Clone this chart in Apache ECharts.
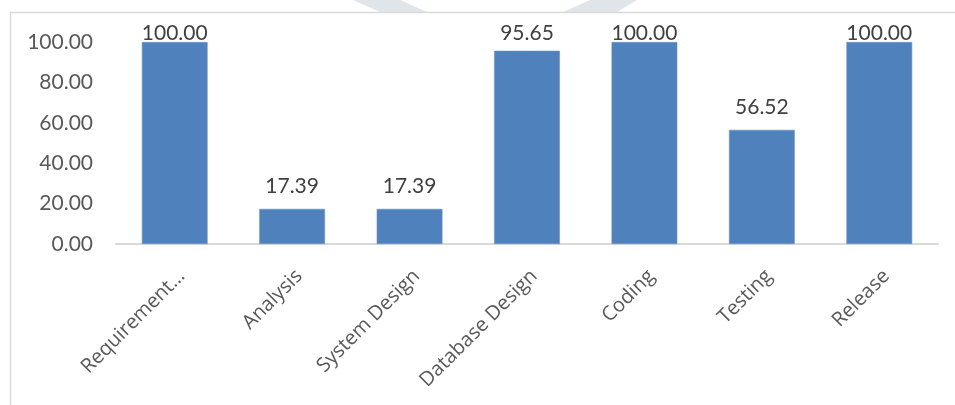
<!DOCTYPE html>
<html>
<head>
<meta charset="utf-8">
<script src="https://cdn.jsdelivr.net/npm/echarts@6/dist/echarts.min.js"></script>
<style>
  html, body { margin: 0; padding: 0; background: #ffffff; }
  #chart { width: 955px; height: 405px; }
</style>
</head>
<body>
<div id="chart"></div>
<script>
// Share of work completed per phase (percent)
var phases = ['Requirement…', 'Analysis', 'System Design', 'Database Design', 'Coding', 'Testing', 'Release'];
var completion = [100.00, 17.39, 17.39, 95.65, 100.00, 56.52, 100.00];
var yTicks = { min: 0, max: 100, step: 20 };

// Value labels never rise above this line (bottom edge of the label box)
var LABEL_MIN_BOTTOM = 44;

var chart = echarts.init(document.getElementById('chart'), null, { renderer: 'canvas' });

chart.setOption({
  backgroundColor: '#ffffff',
  animation: false,
  graphic: [
    // faint chevron behind the frame
    { type: 'polygon', z: -10, silent: true,
      shape: { points: [[353, 0], [400, 0], [427, 12], [380, 12]] },
      style: { fill: '#dfe5e8' } },
    { type: 'polygon', z: -10, silent: true,
      shape: { points: [[590, 0], [637, 0], [617, 12], [563, 12]] },
      style: { fill: '#dfe5e8' } },
    // chart frame (top and left edges)
    { type: 'line', silent: true,
      shape: { x1: 10, y1: 12.5, x2: 955, y2: 12.5 },
      style: { stroke: '#d9d9d9', lineWidth: 1.5 } },
    { type: 'line', silent: true,
      shape: { x1: 10.5, y1: 12, x2: 10.5, y2: 405 },
      style: { stroke: '#d9d9d9', lineWidth: 1.5 } }
  ],
  grid: { left: 116, right: 17, top: 42, bottom: 161, containLabel: false },
  xAxis: {
    type: 'category',
    data: phases,
    axisTick: { show: false },
    axisLine: { show: true, lineStyle: { color: '#d9d9d9', width: 2 } },
    axisLabel: {
      interval: 0,
      rotate: 45,
      margin: 22,
      verticalAlign: 'top',
      color: '#595959',
      fontFamily: 'Open Sans',
      fontSize: 20
    }
  },
  yAxis: {
    type: 'value',
    min: yTicks.min,
    max: yTicks.max,
    interval: yTicks.step,
    axisLine: { show: false },
    axisTick: { show: false },
    splitLine: { show: false },
    axisLabel: {
      margin: 23,
      color: '#595959',
      fontFamily: 'Lato',
      fontSize: 21,
      formatter: function (v) { return v.toFixed(2); }
    }
  },
  series: [{
    type: 'bar',
    data: completion,
    barWidth: '56%',
    itemStyle: { color: '#4f81bd', borderColor: '#6a94c6', borderWidth: 0.6 },
    label: {
      show: true,
      position: 'top',
      distance: 12.5,
      color: '#404040',
      fontFamily: 'Lato',
      fontSize: 21,
      formatter: function (p) { return p.value.toFixed(2); }
    },
    labelLayout: function (p) {
      var r = p.labelRect;
      if (r.y + r.height >= LABEL_MIN_BOTTOM) { return {}; }
      return { x: r.x + r.width / 2, y: LABEL_MIN_BOTTOM, align: 'center', verticalAlign: 'bottom' };
    }
  }]
});
</script>
</body>
</html>
